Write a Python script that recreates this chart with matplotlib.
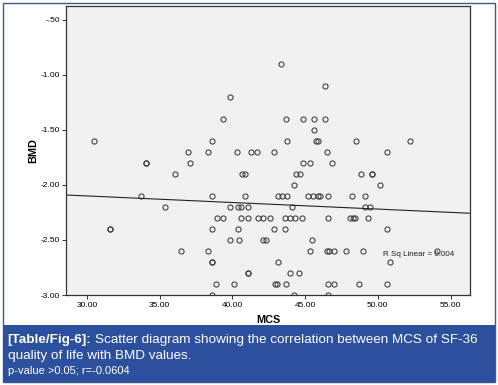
import numpy as np
import matplotlib.pyplot as plt
from matplotlib.patches import Rectangle

plt.rcParams['font.family'] = ['Liberation Sans', 'DejaVu Sans']

# BMD values come in steps of 0.1, so the points are grouped by row
row_bmd = [-0.9, -1.1, -1.2, -1.4, -1.5, -1.6, -1.7, -1.8, -1.9, -2.0,
           -2.1, -2.2, -2.3, -2.4, -2.5, -2.6, -2.7, -2.8, -2.9, -3.0]
row_mcs = [
    [43.35],
    [46.35],
    [39.82],
    [39.34, 43.67, 44.86, 45.59, 46.35],
    [45.59],
    [30.47, 38.58, 43.73, 45.73, 45.87, 48.47, 52.23],
    [36.98, 38.35, 40.34, 41.29, 41.72, 42.87, 46.49, 50.61],
    [34.07, 34.07, 37.09, 44.84, 45.34, 46.85],
    [36.08, 40.65, 40.87, 44.36, 44.65, 48.85, 49.62, 49.62],
    [44.22, 50.12],
    [33.73, 38.58, 40.87, 43.12, 43.44, 43.74, 45.22, 45.57, 45.89, 46.03,
     46.60, 48.21, 49.12],
    [35.35, 39.84, 40.41, 40.58, 41.10, 44.08, 49.12, 49.50],
    [38.97, 39.34, 40.63, 41.10, 41.77, 42.14, 42.59, 43.62, 43.97, 44.31,
     44.77, 46.60, 48.09, 48.30, 48.43, 49.35],
    [31.59, 31.59, 38.58, 40.41, 42.87, 43.60, 50.61],
    [39.84, 40.43, 42.13, 42.30, 45.46],
    [36.47, 38.33, 45.34, 46.49, 46.65, 47.00, 47.80, 49.00, 54.10],
    [38.60, 38.60, 43.12, 50.85],
    [41.10, 41.10, 43.99, 44.60],
    [38.86, 40.10, 42.96, 43.09, 43.70, 46.60, 46.96, 48.74, 50.61],
    [38.60, 44.24, 46.60],
]

# fit line as drawn in the chart (slope, intercept)
fit_coef = (-0.00598, -1.920)

x_ticks = [30, 35, 40, 45, 50, 55]
x_labels = ['30.00', '35.00', '40.00', '45.00', '50.00', '55.00']
y_ticks = [-0.5, -1.0, -1.5, -2.0, -2.5, -3.0]
y_labels = ['-.50', '-1.00', '-1.50', '-2.00', '-2.50', '-3.00']

mcs = np.array([m for row in row_mcs for m in row])
bmd = np.array([b for b, row in zip(row_bmd, row_mcs) for _ in row])

W, H = 498, 385
fig = plt.figure(figsize=(W / 100, H / 100), dpi=100)
fig.patch.set_facecolor('white')

blue = '#2c4f9e'

# outer frame and caption box
fig.patches.append(Rectangle((2.5 / W, 1 - 382 / H), 492.5 / W, 379.5 / H,
                             transform=fig.transFigure, facecolor='none',
                             edgecolor='#3d5a8e', lw=1.0))
fig.patches.append(Rectangle((2.5 / W, 1 - 382 / H), 492.5 / W, 57 / H,
                             transform=fig.transFigure, facecolor=blue,
                             edgecolor='none'))

ax = fig.add_axes([66 / W, 1 - 295 / H, 404 / W, 289 / H])
ax.set_facecolor('#f1f1f1')

ax.plot(mcs, bmd, 'o', ms=3.7, mfc='none', mec='#3a3a3a', mew=0.75)

# linear fit
xlim = (28.57, 56.34)
xs = np.array(xlim)
ax.plot(xs, np.polyval(fit_coef, xs), color='#222222', lw=0.8)

ax.set_xlim(*xlim)
ax.set_ylim(-3.0, -0.373)
ax.set_xticks(x_ticks)
ax.set_xticklabels(x_labels)
ax.set_yticks(y_ticks)
ax.set_yticklabels(y_labels)
ax.tick_params(labelsize=6, length=3, width=0.7, color='#333333', pad=1.5)
ax.tick_params(axis='x', pad=2)
for s in ax.spines.values():
    s.set_color('#333333')
    s.set_linewidth(0.9)

ax.text(382.7 / W, 1 - 255 / H, 'R Sq Linear = 0.004', transform=fig.transFigure,
        fontsize=5.8, va='center', ha='left', color='#222222')

fig.text(268 / W, 1 - 320 / H, 'MCS', fontsize=7.8, fontweight='bold',
         ha='center', va='center')
fig.text(33 / W, 1 - 151 / H, 'BMD', fontsize=7.8, fontweight='bold',
         ha='center', va='center', rotation=90)

# caption: bold label followed by regular text
t1 = fig.text(7.5 / W, 1 - 340 / H, '[Table/Fig-6]:', fontsize=9.7,
              fontweight='bold', color='white', ha='left', va='center')
fig.canvas.draw()
bb = t1.get_window_extent(fig.canvas.get_renderer())
fig.text(bb.x1 / W + 4 / W, 1 - 340 / H,
         'Scatter diagram showing the correlation between MCS of SF-36',
         fontsize=9.7, color='white', ha='left', va='center')
fig.text(7.5 / W, 1 - 356 / H, 'quality of life with BMD values.', fontsize=9.7,
         color='white', ha='left', va='center')
fig.text(7.5 / W, 1 - 371.5 / H, 'p-value >0.05; r=-0.0604', fontsize=8,
         color='white', ha='left', va='center')

fig.savefig('out.png', dpi=100)
